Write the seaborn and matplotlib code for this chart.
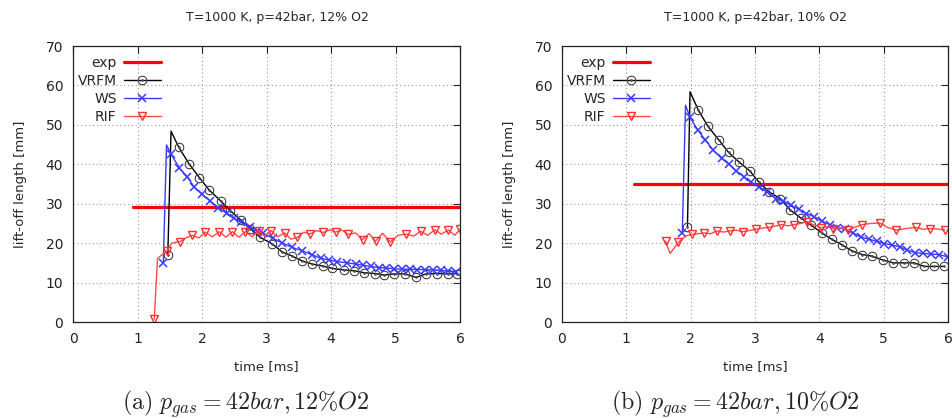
import matplotlib
matplotlib.use("Agg")
import matplotlib.pyplot as plt
import seaborn as sns
import pandas as pd

# ---------------- data: panel (a) 12% O2 ----------------
a_exp_t = [0.93, 6.0]
a_exp_y = [29.1, 29.1]

a_vrfm_t = [1.47, 1.52, 1.64, 1.80, 1.96, 2.11, 2.29, 2.44, 2.60, 2.75, 2.90, 3.09, 3.24,
            3.40, 3.55, 3.71, 3.87, 4.02, 4.20, 4.36, 4.51, 4.68, 4.82, 4.98, 5.15, 5.32,
            5.47, 5.64, 5.81, 5.96]
a_vrfm_y = [17.0, 48.4, 44.3, 40.1, 36.6, 33.5, 30.7, 28.2, 25.9, 23.6, 21.5, 19.8, 17.8,
            16.7, 15.5, 14.7, 14.2, 13.6, 13.2, 13.0, 12.5, 12.3, 11.9, 12.2, 12.2, 11.3,
            12.2, 12.3, 12.2, 12.3]

a_ws_t = [1.40, 1.45, 1.52, 1.65, 1.77, 1.88, 2.00, 2.13, 2.25, 2.38, 2.49, 2.61, 2.74,
          2.86, 2.95, 3.10, 3.24, 3.40, 3.55, 3.71, 3.84, 3.97, 4.10, 4.25, 4.38, 4.50,
          4.62, 4.74, 4.86, 4.98, 5.10, 5.22, 5.34, 5.46, 5.58, 5.70, 5.82, 5.94]
a_ws_y = [15.0, 44.9, 42.6, 39.0, 36.9, 34.2, 32.4, 30.7, 29.0, 27.6, 26.3, 25.3, 24.2,
          23.1, 22.5, 21.2, 20.1, 18.9, 18.1, 17.0, 16.2, 15.7, 15.3, 15.0, 14.7, 14.4,
          14.1, 13.8, 13.7, 13.5, 13.4, 13.4, 13.3, 13.3, 13.2, 13.1, 12.9, 12.8]

a_rif_t = [1.26, 1.31, 1.46, 1.53, 1.66, 1.77, 1.85, 1.95, 2.05, 2.16, 2.27, 2.37, 2.47,
           2.57, 2.67, 2.78, 2.88, 2.97, 3.07, 3.17, 3.28, 3.38, 3.48, 3.58, 3.67, 3.78,
           3.88, 3.98, 4.07, 4.17, 4.27, 4.38, 4.49, 4.59, 4.69, 4.80, 4.92, 5.04, 5.17,
           5.28, 5.39, 5.50, 5.61, 5.71, 5.82, 5.92, 6.00]
a_rif_y = [0.7, 16.1, 18.1, 20.0, 20.4, 21.5, 22.0, 21.3, 22.8, 21.6, 22.9, 21.5, 22.9,
           21.5, 22.9, 21.6, 23.2, 21.8, 23.2, 21.6, 22.6, 21.0, 21.5, 22.8, 22.3, 23.2,
           22.7, 23.4, 22.8, 23.3, 22.2, 22.6, 20.9, 22.4, 20.5, 22.5, 20.3, 22.0, 22.3,
           21.8, 23.0, 22.0, 23.4, 22.3, 23.3, 22.0, 23.5]

# ---------------- data: panel (b) 10% O2 ----------------
b_exp_t = [1.12, 6.0]
b_exp_y = [35.1, 35.1]

b_vrfm_t = [1.95, 1.99, 2.12, 2.27, 2.44, 2.59, 2.75, 2.92, 3.06, 3.22, 3.39, 3.55, 3.71,
            3.87, 4.04, 4.19, 4.35, 4.51, 4.67, 4.82, 4.99, 5.15, 5.31, 5.47, 5.63, 5.78,
            5.94]
b_vrfm_y = [24.0, 58.4, 53.7, 49.6, 46.1, 43.0, 40.6, 38.3, 35.5, 33.0, 31.3, 28.4, 26.4,
            24.6, 22.6, 21.0, 19.6, 18.0, 17.1, 16.7, 15.7, 15.0, 15.0, 15.0, 14.1, 14.1,
            14.1]

b_ws_t = [1.87, 1.92, 1.99, 2.11, 2.23, 2.35, 2.48, 2.60, 2.71, 2.83, 2.94, 3.06, 3.19,
          3.32, 3.44, 3.56, 3.68, 3.80, 3.92, 4.04, 4.16, 4.28, 4.40, 4.52, 4.64, 4.77,
          4.89, 5.01, 5.13, 5.25, 5.37, 5.49, 5.61, 5.74, 5.86, 6.00]
b_ws_y = [22.6, 55.0, 51.9, 48.7, 46.1, 43.6, 41.5, 40.0, 38.3, 36.8, 35.4, 34.3, 33.0,
          31.3, 30.7, 29.6, 28.6, 27.5, 26.7, 25.6, 24.7, 23.9, 23.5, 22.6, 21.6, 21.0,
          20.5, 19.9, 19.5, 19.1, 18.2, 17.6, 17.4, 17.2, 17.1, 16.5]

b_rif_t = [1.61, 1.68, 1.81, 1.92, 2.02, 2.12, 2.21, 2.31, 2.41, 2.51, 2.61, 2.71, 2.81,
           2.91, 3.01, 3.11, 3.21, 3.31, 3.41, 3.51, 3.61, 3.71, 3.81, 3.92, 4.02, 4.12,
           4.22, 4.33, 4.45, 4.56, 4.67, 4.80, 4.94, 5.06, 5.19, 5.34, 5.50, 5.61, 5.72,
           5.84, 5.95]
b_rif_y = [20.5, 17.4, 20.2, 21.8, 22.2, 22.4, 22.6, 22.4, 23.1, 22.8, 23.1, 23.3, 22.9,
           23.2, 23.5, 23.8, 24.0, 24.3, 24.7, 24.4, 24.7, 25.0, 25.4, 24.6, 23.9, 24.2,
           23.7, 23.9, 23.3, 24.1, 24.7, 25.0, 25.1, 24.0, 23.3, 23.7, 24.0, 23.5, 23.7,
           23.6, 23.3]

titles = ["T=1000 K, p=42bar, 12% O2", "T=1000 K, p=42bar, 10% O2"]
captions = [r"$\mathrm{(a)}\ p_{gas}=42bar,12\%O2$", r"$\mathrm{(b)}\ p_{gas}=42bar,10\%O2$"]
x_ticks = [0, 1, 2, 3, 4, 5, 6]
y_ticks = [0, 10, 20, 30, 40, 50, 60, 70]

# ---------------- style ----------------
sns.set_theme(style="white")
plt.rcParams["font.family"] = ["DejaVu Sans"]
plt.rcParams["mathtext.fontset"] = "cm"

W, H = 952, 418
fig = plt.figure(figsize=(W / 100, H / 100), dpi=100)
fig.patch.set_facecolor("white")

axes_px = [(73, 460), (562, 948)]
top_px, bot_px = 46, 322
title_x = [277, 755]
caption_x = [246, 735]

panels = [
    (a_exp_t, a_exp_y, a_vrfm_t, a_vrfm_y, a_ws_t, a_ws_y, a_rif_t, a_rif_y),
    (b_exp_t, b_exp_y, b_vrfm_t, b_vrfm_y, b_ws_t, b_ws_y, b_rif_t, b_rif_y),
]

for i, (et, ey, vt, vy, wt, wy, rt, ry) in enumerate(panels):
    l, r = axes_px[i]
    ax = fig.add_axes([l / W, 1 - bot_px / H, (r - l) / W, (bot_px - top_px) / H])
    ax.set_facecolor("white")

    sns.lineplot(x=et, y=ey, ax=ax, color="#ff0000", lw=2.3, label="exp",
                 estimator=None, sort=False)
    sns.lineplot(x=vt, y=vy, ax=ax, color="black", lw=1.0, label="VRFM",
                 estimator=None, sort=False, marker=r"$\odot$", markersize=6.5,
                 markeredgewidth=0.45, markeredgecolor="#505050", markerfacecolor="#505050",
                 markevery=[0] + list(range(2, len(vt))))
    sns.lineplot(x=wt, y=wy, ax=ax, color="#3a3aff", lw=1.0, label="WS",
                 estimator=None, sort=False, marker="x", markersize=5.5,
                 markeredgewidth=1.1, markeredgecolor="#3a3aff",
                 markevery=[0] + list(range(2, len(wt))))
    sns.lineplot(x=rt, y=ry, ax=ax, color="#ff4a4a", lw=1.0, label="RIF",
                 estimator=None, sort=False, marker="v", markersize=5.5,
                 markerfacecolor="none", markeredgecolor="#ff3030", markeredgewidth=1.0,
                 markevery=slice(0, None, 2))

    ax.set_xlim(0, 6)
    ax.set_ylim(0, 70)
    ax.set_xticks(x_ticks)
    ax.set_yticks(y_ticks)
    ax.grid(True, color="#9a9a9a", linestyle=(0, (1, 2.5)), linewidth=0.8)
    for s in ax.spines.values():
        s.set_visible(True)
        s.set_color("#222222")
        s.set_linewidth(0.9)
    ax.tick_params(direction="in", length=5, width=0.8, top=True, right=True,
                   labelsize=10, colors="#222222", pad=7)
    ax.set_xlabel("time [ms]", fontsize=9.5)
    ax.set_ylabel("lift-off length [mm]", fontsize=9.5)
    ax.xaxis.set_label_coords(0.5, -(360 - bot_px) / (bot_px - top_px))
    ax.yaxis.set_label_coords(-46 / (r - l), 0.5)

    ax.legend(loc="upper left", bbox_to_anchor=(-0.01, 0.995), frameon=False,
              markerfirst=False, fontsize=10, handlelength=2.7, handletextpad=0.5,
              labelspacing=0.3, borderaxespad=0.2)

    fig.text(title_x[i] / W, 1 - 17 / H, titles[i], ha="center", va="center", fontsize=9)
    fig.text(caption_x[i] / W, 1 - 404 / H, captions[i], ha="center", va="center",
             fontsize=17.3)

fig.savefig("out.png", dpi=100, facecolor="white")
